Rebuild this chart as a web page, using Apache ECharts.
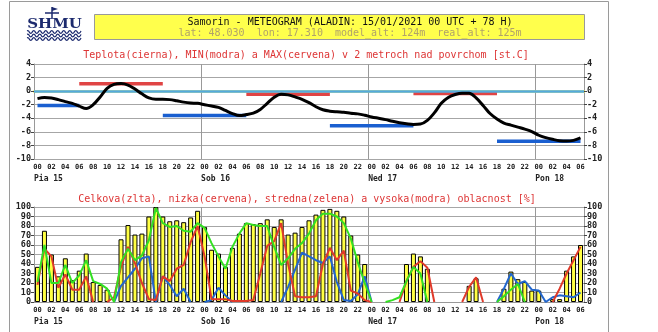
<!DOCTYPE html>
<html><head><meta charset="utf-8">
<script src="https://cdn.jsdelivr.net/npm/echarts/dist/echarts.min.js"></script>
<style>html,body{margin:0;padding:0;background:#fff}#c{width:658px;height:332px}</style>
</head><body><div id="c"></div>
<script>
// ---- data ----
const hourLabels = ['00','01','02','03','04','05','06','07','08','09','10','11','12','13','14','15','16','17','18','19','20','21','22','23',
 '00','01','02','03','04','05','06','07','08','09','10','11','12','13','14','15','16','17','18','19','20','21','22','23',
 '00','01','02','03','04','05','06','07','08','09','10','11','12','13','14','15','16','17','18','19','20','21','22','23',
 '00','01','02','03','04','05','06'];
const dayLabels = ['Pia 15','Sob 16','Ned 17','Pon 18'];
const dayStartHours = [0,24,48,72];

const temperature = [-1.1,-0.93,-1.0,-1.25,-1.55,-1.8,-2.2,-2.55,-2.0,-0.85,0.4,1.0,1.13,0.9,0.3,-0.4,-1.0,-1.2,-1.2,-1.25,-1.42,-1.62,-1.75,-1.8,
 -2.0,-2.2,-2.4,-2.85,-3.3,-3.6,-3.45,-3.25,-2.7,-1.8,-0.9,-0.45,-0.55,-0.85,-1.2,-1.7,-2.3,-2.75,-2.95,-3.05,-3.12,-3.25,-3.35,-3.55,
 -3.8,-4.0,-4.2,-4.45,-4.65,-4.8,-4.9,-4.85,-4.3,-3.2,-1.8,-0.95,-0.5,-0.3,-0.3,-1.0,-2.1,-3.3,-4.1,-4.7,-5.0,-5.3,-5.6,-5.95,
 -6.5,-6.85,-7.1,-7.3,-7.36,-7.25,-6.9];
const minStart = [0,18,42,66];
const minEnd   = [6,30,54,78];
const minValue = [-2.1,-3.6,-5.1,-7.4];
const maxStart = [6,30,54];
const maxEnd   = [18,42,66];
const maxValue = [1.1,-0.45,-0.35];
const zeroLine = 0;

const totalCloud = [37,75,50,27,46,23,33,51,21,18,13,0,66,81,71,72,90,100,90,85,86,84,89,96,
 79,55,51,37,57,72,83,82,83,87,79,87,71,73,79,86,92,97,98,96,90,70,50,40,
 0,0,0,0,0,40,51,48,35,0,0,0,0,0,17,25,0,0,0,14,32,24,21,12,
 12,0,3,3,33,48,60];
const lowCloud = [18,56,48,15,29,13,13,27,0,0,0,5,37,58,41,20,3,2,27,22,35,39,63,80,
 48,3,3,3,1,1,1,2,30,59,64,83,40,6,5,5,6,40,57,44,54,12,9,2,
 0,0,0,0,0,22,37,43,36,0,0,0,0,0,16,26,0,0,0,0,0,0,0,0,
 0,0,0,14,30,44,58];
const midCloud = [21,60,20,20,39,20,28,44,22,19,14,0,42,56,44,49,65,99,83,79,80,75,74,83,
 78,62,48,35,58,72,83,81,80,80,58,39,46,56,62,72,86,93,93,90,83,67,42,20,
 0,0,0,2,5,22,37,30,0,0,0,0,0,0,0,0,0,0,0,6,13,19,0,0,
 0,0,0,0,0,0,0];
const highCloud = [0,0,0,0,0,0,0,0,0,0,0,0,17,26,35,46,48,0,27,18,6,14,0,0,
 0,2,15,7,0,0,0,0,0,0,0,0,16,34,52,48,44,41,48,21,2,1,8,27,
 0,0,0,0,0,0,0,0,0,0,0,0,0,0,0,0,0,0,0,14,30,19,22,13,
 12,0,5,7,6,5,10];

// ---- helpers ----
function segments(starts, ends, vals){
  const a = hourLabels.map(() => null);
  starts.forEach((s,k) => { for(let i=s;i<=ends[k];i++) a[i]=vals[k]; });
  return a;
}
function visibleLine(arr){
  return arr.map((v,i) => (v===0 && (i===0||arr[i-1]===0) && (i===arr.length-1||arr[i+1]===0)) ? null : v);
}
const mono = "'DejaVu Sans Mono', monospace";
const gridColor = '#a6a6a6';
function dayFmt(v){ const k = dayStartHours.indexOf(v); return k>=0 ? dayLabels[k] : ''; }

function hourAxis(g, lineColor, lineWidth){
  return {type:'category', gridIndex:g, data:hourLabels, boundaryGap:true,
    axisLine:{show:true, lineStyle:{color:lineColor, width:lineWidth}},
    axisTick:{show:false}, splitLine:{show:false},
    axisLabel:{interval:1, margin:5, fontSize:7, fontWeight:'bold', fontFamily:mono, color:'#222', hideOverlap:false}};
}
function dayAxis(g){
  return {type:'value', gridIndex:g, min:0, max:79, interval:24, position:'bottom',
    axisLine:{show:false}, axisTick:{show:false},
    splitLine:{show:true, lineStyle:{color:'#999', width:1}},
    axisLabel:{formatter:dayFmt, align:'left', margin:16, fontSize:8, fontWeight:'bold', fontFamily:mono, color:'#222', showMaxLabel:false}};
}
function yAx(g, pos, min, max, interval, split){
  return {type:'value', gridIndex:g, position:pos, min:min, max:max, interval:interval,
    axisLine:{show:true, lineStyle:{color:'#999'}},
    axisTick:{show:true, length:3, lineStyle:{color:'#444'}},
    splitLine:{show:split, lineStyle:{color:gridColor, width:1}},
    axisLabel:{margin:3, fontSize:8.5, fontWeight:'bold', fontFamily:mono, color:'#222'}};
}

// waves for logo (decoration)
function wave(y0){
  const pts=[]; for(let x=27;x<=82;x+=1.5){ pts.push([x, y0 + ((Math.floor((x-27)/3))%2 ? 1.1 : -1.1)]); }
  return {type:'polyline', shape:{points:pts, smooth:0.5}, style:{stroke:'#1c2a6e', lineWidth:1.2, fill:null}};
}

const chart = echarts.init(document.getElementById('c'), null, {renderer:'canvas'});
chart.setOption({
  animation:false,
  backgroundColor:'#fff',
  grid:[{left:34, right:74, top:64, height:95},{left:34, right:74, top:207, height:95}],
  xAxis:[hourAxis(0,'#eeee55',2.5), dayAxis(0), hourAxis(1,'#999',1), dayAxis(1)],
  yAxis:[yAx(0,'left',-10,4,2,true), yAx(0,'right',-10,4,2,false), yAx(1,'left',0,100,10,true), yAx(1,'right',0,100,10,false)],
  series:[
    {type:'line', xAxisIndex:0, yAxisIndex:0, data:[], z:1, silent:true,
     markLine:{silent:true, symbol:'none', label:{show:false}, lineStyle:{color:'#55aadd', width:2.5, type:'solid'}, data:[{yAxis:zeroLine}]}},
    {type:'line', xAxisIndex:0, yAxisIndex:0, data:segments(minStart,minEnd,minValue), symbol:'none', z:3,
     lineStyle:{color:'#1a5fd0', width:3.5}, connectNulls:false},
    {type:'line', xAxisIndex:0, yAxisIndex:0, data:segments(maxStart,maxEnd,maxValue), symbol:'none', z:3,
     lineStyle:{color:'#e04444', width:3.5}, connectNulls:false},
    {type:'line', xAxisIndex:0, yAxisIndex:0, data:temperature, symbol:'none', smooth:0.35, z:5,
     lineStyle:{color:'#000', width:3}},
    {type:'bar', xAxisIndex:2, yAxisIndex:2, data:totalCloud.map(v => v===0 ? null : v), barWidth:5,
     itemStyle:{color:'#ffff44', borderColor:'#000', borderWidth:1}, z:2},
    {type:'line', xAxisIndex:2, yAxisIndex:2, data:visibleLine(highCloud), symbol:'none', z:3,
     lineStyle:{color:'#2266cc', width:2}},
    {type:'line', xAxisIndex:2, yAxisIndex:2, data:visibleLine(lowCloud), symbol:'none', z:4,
     lineStyle:{color:'#e03a2a', width:2}},
    {type:'line', xAxisIndex:2, yAxisIndex:2, data:visibleLine(midCloud), symbol:'none', z:5,
     lineStyle:{color:'#33e022', width:2}}
  ],
  graphic:[
    {type:'rect', shape:{x:9.5, y:1.5, width:599, height:340}, style:{fill:null, stroke:'#9a9a9a', lineWidth:1}, z:-1},
    {type:'rect', shape:{x:94.5, y:14.5, width:490, height:25}, style:{fill:'#ffff4c', stroke:'#999', lineWidth:1}},
    {type:'text', x:350, y:22.5, style:{text:'Samorin - METEOGRAM (ALADIN: 15/01/2021 00 UTC + 78 H)', font:"10px 'DejaVu Sans Mono'", fill:'#111', textAlign:'center', textVerticalAlign:'middle'}},
    {type:'text', x:350, y:33.5, style:{text:'lat: 48.030  lon: 17.310  model_alt: 124m  real_alt: 125m', font:"10px 'DejaVu Sans Mono'", fill:'#b0a26a', textAlign:'center', textVerticalAlign:'middle'}},
    {type:'text', x:306, y:55.5, style:{text:'Teplota(cierna), MIN(modra) a MAX(cervena) v 2 metroch nad povrchom [st.C]', font:"10px 'DejaVu Sans Mono'", fill:'#dd3535', textAlign:'center', textVerticalAlign:'middle'}},
    {type:'text', x:307, y:199, style:{text:'Celkova(zlta), nizka(cervena), stredna(zelena) a vysoka(modra) oblacnost [%]', font:"10px 'DejaVu Sans Mono'", fill:'#dd3535', textAlign:'center', textVerticalAlign:'middle'}},
    // logo
    {type:'line', shape:{x1:52, y1:7, x2:52, y2:19}, style:{stroke:'#1c2a6e', lineWidth:1.5}},
    {type:'line', shape:{x1:45, y1:13, x2:59, y2:13}, style:{stroke:'#1c2a6e', lineWidth:1.5}},
    {type:'polygon', shape:{points:[[52,7],[58,9],[52,11]]}, style:{fill:'#1c2a6e'}},
    {type:'text', x:54.5, y:25, scaleX:1.15, style:{text:'SHMU', font:"bold 13px 'DejaVu Serif'", fill:'#1c2a6e', textAlign:'center', textVerticalAlign:'middle'}},
    wave(32), wave(35.5), wave(39)
  ]
});
</script></body></html>
